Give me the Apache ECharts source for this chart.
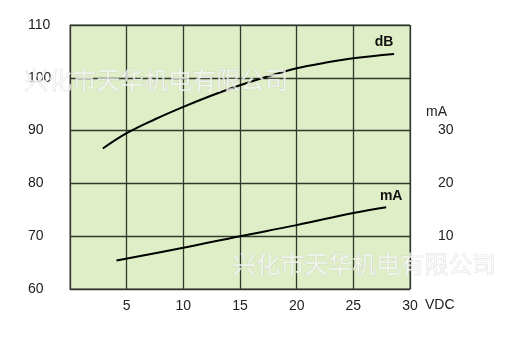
<!DOCTYPE html>
<html><head><meta charset="utf-8">
<script src="https://cdn.jsdelivr.net/npm/echarts@6/dist/echarts.min.js"></script>
<style>html,body{margin:0;padding:0;background:#fff}#c{width:508px;height:363px}</style>
</head><body><div id="c"></div>
<script>
var xTicks = [0, 5, 10, 15, 20, 25, 30];
var dbTicks = [60, 70, 80, 90, 100, 110];
var maTicks = [10, 20, 30];
var dbX = [2.9, 5, 7.5, 10, 12.5, 15, 17.5, 20, 22.5, 25, 28.6];
var dbY = [86.6, 89.5, 92.15, 94.5, 96.65, 98.6, 100.3, 101.8, 102.85, 103.7, 104.5];
var maX = [4.1, 10, 15, 20, 25, 27.9];
var maY = [5.4, 7.8, 10.0, 12.1, 14.4, 15.5];
var watermark = '兴化市天华机电有限公司';

var lblStyle = { color: '#111', fontSize: 14, fontWeight: 'bold', fontFamily: 'Liberation Sans, Arial' };
function data(xs, ys) { return xs.map(function (x, i) { return [x, ys[i]]; }); }
function endMark(xs, ys, name, off) {
  var n = xs.length - 1;
  return { symbol: 'circle', symbolSize: 0, silent: true,
    data: [{ coord: [xs[n], ys[n]], label: Object.assign({ show: true, position: 'top', distance: 4, offset: off, formatter: name }, lblStyle) }] };
}

var chart = echarts.init(document.getElementById('c'));
var gridColor = '#2f3a2a';
chart.setOption({
  animation: false,
  grid: { left: 70, right: 98, top: 25, bottom: 74, show: true, backgroundColor: '#dfeec7', borderColor: '#4a4a4a', borderWidth: 1 },
  xAxis: {
    type: 'value', min: 0, max: 30, interval: 5,
    name: 'VDC', nameLocation: 'end', nameGap: 15,
    nameTextStyle: { color: '#222', fontSize: 14, fontFamily: 'Liberation Sans, Arial', verticalAlign: 'top', padding: [9, 0, 0, 0] },
    axisLine: { show: true, lineStyle: { color: '#333' } },
    axisTick: { show: false },
    axisLabel: { color: '#222', fontSize: 14, margin: 10, fontFamily: 'Liberation Sans, Arial',
      formatter: function (v) { return v === 0 ? '' : String(v); } },
    splitLine: { show: true, lineStyle: { color: gridColor, width: 1.3 } }
  },
  yAxis: [{
    type: 'value', min: 60, max: 110, interval: 10,
    axisLine: { show: true, lineStyle: { color: '#333' } },
    axisTick: { show: false },
    axisLabel: { color: '#222', fontSize: 14, margin: 42, align: 'left', fontFamily: 'Liberation Sans, Arial' },
    splitLine: { show: true, lineStyle: { color: gridColor, width: 1.3 } }
  }, {
    type: 'value', min: 0, max: 50, interval: 10, position: 'right',
    axisLine: { show: false }, axisTick: { show: false }, splitLine: { show: false },
    axisLabel: { color: '#222', fontSize: 14, margin: 28, fontFamily: 'Liberation Sans, Arial',
      formatter: function (v) { return maTicks.indexOf(v) >= 0 ? String(v) : ''; } }
  }],
  graphic: [
    { type: 'text', left: 426, top: 105, style: { text: 'mA', fill: '#222', fontSize: 14, fontFamily: 'Liberation Sans, Arial' } },
    { type: 'text', left: 24, top: 68, z: 100, style: { text: watermark, fill: 'rgba(248,248,248,0.75)', stroke: 'rgba(190,190,190,0.6)', lineWidth: 0.6, fontSize: 24, fontFamily: 'Noto Sans CJK SC' } },
    { type: 'text', left: 232, top: 252, z: 100, style: { text: watermark, fill: 'rgba(248,248,248,0.75)', stroke: 'rgba(190,190,190,0.6)', lineWidth: 0.6, fontSize: 24, fontFamily: 'Noto Sans CJK SC' } }
  ],
  series: [{
    type: 'line', smooth: 0.4, symbol: 'none', showSymbol: false, yAxisIndex: 0,
    lineStyle: { color: '#000', width: 2 },
    data: data(dbX, dbY),
    markPoint: endMark(dbX, dbY, 'dB', [-10, -1])
  }, {
    type: 'line', smooth: 0.4, symbol: 'none', showSymbol: false, yAxisIndex: 1,
    lineStyle: { color: '#000', width: 2 },
    data: data(maX, maY),
    markPoint: endMark(maX, maY, 'mA', [5, 0])
  }]
});
</script></body></html>
